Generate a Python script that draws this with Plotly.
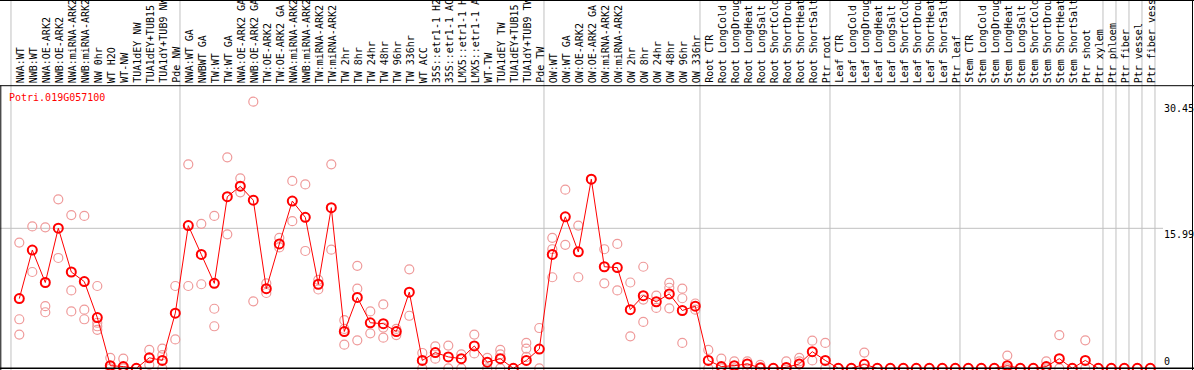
import plotly.graph_objects as go

categories = [
    "NWA:WT", "NWB:WT", "NWA:OE-ARK2", "NWB:OE-ARK2", "NWA:miRNA-ARK2", "NWB:miRNA-ARK2",
    "NW 0hr", "WT H2O", "WT-NW", "TUA1dEY NW", "TUA1dEY+TUB15", "TUA1dY+TUB9 NW", "Pde NW",
    "NWA:WT GA", "NWBWT GA", "TW:WT", "TW:WT GA", "NWA:OE-ARK2 GA", "NWB:OE-ARK2 GA",
    "TW:OE-ARK2", "TW:OE-ARK2 GA", "NWA:miRNA-ARK2", "NWB:miRNA-ARK2", "TW:miRNA-ARK2",
    "TW:miRNA-ARK2", "TW 2hr", "TW 8hr", "TW 24hr", "TW 48hr", "TW 96hr", "TW 336hr",
    "WT ACC", "35S::etr1-1 H2O", "35S::etr1-1 ACC", "LMX5::etr1-1 H2O", "LMX5::etr1-1 ACC",
    "WT-TW", "TUA1dEY TW", "TUA1dEY+TUB15 TW", "TUA1dY+TUB9 TW", "Pde TW",
    "OW:WT", "OW:WT GA", "OW:OE-ARK2", "OW:OE-ARK2 GA", "OW:miRNA-ARK2", "OW:miRNA-ARK2",
    "OW 2hr", "OW 8hr", "OW 24hr", "OW 48hr", "OW 96hr", "OW 336hr",
    "Root CTR", "Root LongCold", "Root LongDrought", "Root LongHeat", "Root LongSalt",
    "Root ShortCold", "Root ShortDrought", "Root ShortHeat", "Root ShortSalt", "Ptr root",
    "Leaf CTR", "Leaf LongCold", "Leaf LongDrought", "Leaf LongHeat", "Leaf LongSalt",
    "Leaf ShortCold", "Leaf ShortDrought", "Leaf ShortHeat", "Leaf ShortSalt", "Ptr leaf",
    "Stem CTR", "Stem LongCold", "Stem LongDrought", "Stem LongHeat", "Stem LongSalt",
    "Stem ShortCold", "Stem ShortDrought", "Stem ShortHeat", "Stem ShortSalt", "Ptr shoot",
    "Ptr xylem", "Ptr phloem", "Ptr fiber", "Ptr vessel", "Ptr fiber vessel",
]

group_sizes = [13, 28, 12, 10, 10, 11, 1, 1, 1, 1]

mean_values = [
    7.96, 13.5, 9.8, 16.0, 11.0, 9.9, 5.8, 0.3, 0.2, 0.0, 1.2, 0.9, 6.3,
    16.3, 13.0, 9.7, 19.6, 20.8, 19.2, 9.1, 14.2, 19.1, 17.25, 9.6, 18.35,
    4.2, 8.1, 5.2, 5.1, 4.2, 8.7, 0.9, 1.8, 1.3, 1.1, 2.55, 0.7, 1.1, 0.0, 0.9, 2.2,
    13.0, 17.3, 13.3, 21.6, 11.6, 11.5, 6.7, 8.3, 7.6, 8.5, 6.6, 7.1,
    0.9, 0.2, 0.3, 0.5, 0.05, 0.0, 0.1, 0.5, 1.9, 0.9,
    0.0, 0.0, 0.45, 0.0, 0.0, 0.0, 0.0, 0.0, 0.0, 0.0,
    0.0, 0.0, 0.0, 0.3, 0.0, 0.0, 0.2, 1.1, 0.0, 0.9, 0.0,
    0.0, 0.0, 0.0, 0.0,
]

replicates = [
    [14.36, 5.6, 3.85], [16.2, 11.0], [16.1, 7.1, 6.4], [19.3, 12.6], [17.5, 8.9, 6.5],
    [17.4, 6.7, 5.6], [9.4, 5.2, 4.8, 4.4], [1.2, 0.0], [1.1, 0.0], [0.0], [2.1, 0.4],
    [2.25, 1.5, 0.0], [9.4, 3.3],
    [23.3, 9.4], [16.5, 9.6], [17.4, 6.8, 4.8], [24.1, 15.3], [21.7, 20.1], [30.45, 7.65],
    [9.7, 8.6], [14.9, 13.8], [21.4, 16.8], [21.0, 13.4], [10.1, 9.0], [23.3, 13.55],
    [5.5, 4.5, 2.7], [11.7, 9.1, 3.2], [6.5, 4.0], [7.3, 4.65, 3.5], [4.5, 3.8], [11.3, 6.0],
    [1.75, 0.0], [2.5, 1.1], [2.6, 0.0], [1.6, 0.0], [3.85, 1.7], [1.2, 0.0],
    [2.1, 1.6, 0.0], [0.0], [2.9, 2.25, 1.3], [4.6, 0.0],
    [14.9, 13.6, 10.4], [20.4, 14.1], [16.3, 10.4], [21.6], [13.6, 9.7], [14.2, 8.9],
    [9.8, 3.65], [11.6, 7.85, 5.3], [8.3, 6.9], [9.75, 9.2, 6.85], [9.1, 8.0, 2.9], [7.4, 6.7],
    [2.1, 0.0], [1.1, 0.0], [0.8, 0.0], [0.8, 0.0], [0.4, 0.0], [0.0], [0.8, 0.0],
    [1.2, 0.8], [3.15, 0.9], [2.9, 0.0],
    [0.0], [0.0], [1.8, 0.0], [0.0], [0.0], [0.0], [0.0], [0.0], [0.0], [0.0],
    [0.0], [0.0], [0.0], [1.45, 0.0], [0.0], [0.0], [0.8, 0.0], [3.8, 0.0], [0.0],
    [3.2, 0.0], [0.0],
    [0.0], [0.0], [0.0], [0.0],
]

gene_id = "Potri.019G057100"
y_tick_values = [30.45, 15.99, 0]
y_tick_labels = ["30.45", "15.99", "0"]

W, H = 1194, 370
MONO = "DejaVu Sans Mono"
MEAN_COLOR = "#ff0000"
REP_COLOR = "#ef9a9a"
GRID = "#c0c0c0"

idx = list(range(len(categories)))
rep_x, rep_y = [], []
for i, reps in enumerate(replicates):
    for v in reps:
        rep_x.append(i)
        rep_y.append(v)

fig = go.Figure()
fig.add_trace(go.Scatter(
    x=rep_x, y=rep_y, mode="markers",
    marker=dict(symbol="circle-open", size=9, color=REP_COLOR, line=dict(width=1.2, color=REP_COLOR)),
    hoverinfo="skip", showlegend=False, cliponaxis=True,
))
fig.add_trace(go.Scatter(
    x=idx, y=mean_values, mode="lines+markers",
    line=dict(color=MEAN_COLOR, width=1),
    marker=dict(symbol="circle-open", size=9, color=MEAN_COLOR, line=dict(width=2, color=MEAN_COLOR)),
    text=categories, showlegend=False, cliponaxis=True,
))

# Axis pixel mapping
x0_px, step_px = 19.3, 13.0
zero_px, ppu = 368.3, 140.0 / 15.99
x_range = [(0 - x0_px) / step_px, (W - x0_px) / step_px]
y_range = [(zero_px - H) / ppu, zero_px / ppu]

shapes = []
# group separators
pos = 0
bounds = [-0.64]
for g in group_sizes:
    pos += g
    bounds.append(pos - 0.64)
for b in bounds:
    shapes.append(dict(type="line", xref="x", yref="paper", x0=b, x1=b, y0=0, y1=1,
                       line=dict(color=GRID, width=1), layer="below"))
# horizontal grid at 15.99
shapes.append(dict(type="line", xref="paper", yref="y", x0=0, x1=1163 / W, y0=15.99, y1=15.99,
                   line=dict(color=GRID, width=1), layer="below"))
# borders
label_line = 1 - 85.7 / H
shapes += [
    dict(type="line", xref="paper", yref="paper", x0=0, x1=1, y0=label_line, y1=label_line,
         line=dict(color="black", width=1)),
    dict(type="line", xref="paper", yref="paper", x0=0, x1=1, y0=1 - 0.5 / H, y1=1 - 0.5 / H,
         line=dict(color="black", width=1)),
    dict(type="line", xref="paper", yref="paper", x0=1 - 1.5 / W, x1=1 - 1.5 / W, y0=0, y1=1,
         line=dict(color="black", width=1)),
    dict(type="line", xref="paper", yref="paper", x0=0.8 / W, x1=0.8 / W, y0=0, y1=label_line,
         line=dict(color="black", width=1)),
    dict(type="line", xref="paper", yref="y", x0=0, x1=1, y0=0, y1=0,
         line=dict(color="black", width=1.5)),
]

annotations = []
for i, c in enumerate(categories):
    annotations.append(dict(
        x=i, y=1 - 84 / H, xref="x", yref="paper", text=c, showarrow=False,
        textangle=-90, xanchor="center", yanchor="bottom", borderpad=0, xshift=1,
        font=dict(family=MONO, size=10, color="black"),
    ))
annotations.append(dict(
    x=8 / W, y=1 - 97 / H, xref="paper", yref="paper", text=gene_id, showarrow=False,
    xanchor="left", yanchor="middle", borderpad=0,
    font=dict(family=MONO, size=10, color=MEAN_COLOR),
))
for v, t in zip(y_tick_values, y_tick_labels):
    annotations.append(dict(
        x=1162.5 / W, y=v, xref="paper", yref="y", text=t, showarrow=False,
        xanchor="left", yanchor="bottom" if v == 0 else "top", borderpad=0,
        font=dict(family=MONO, size=10, color="black"),
    ))

fig.update_layout(
    width=W, height=H, margin=dict(l=0, r=0, t=0, b=0),
    paper_bgcolor="white", plot_bgcolor="white",
    xaxis=dict(range=x_range, visible=False, fixedrange=True),
    yaxis=dict(range=y_range, visible=False, fixedrange=True),
    shapes=shapes, annotations=annotations, showlegend=False,
)

fig.write_html(
    "out.html",
    config={"displayModeBar": False},
    post_script="document.body.style.margin='0';document.body.style.padding='0';",
)
